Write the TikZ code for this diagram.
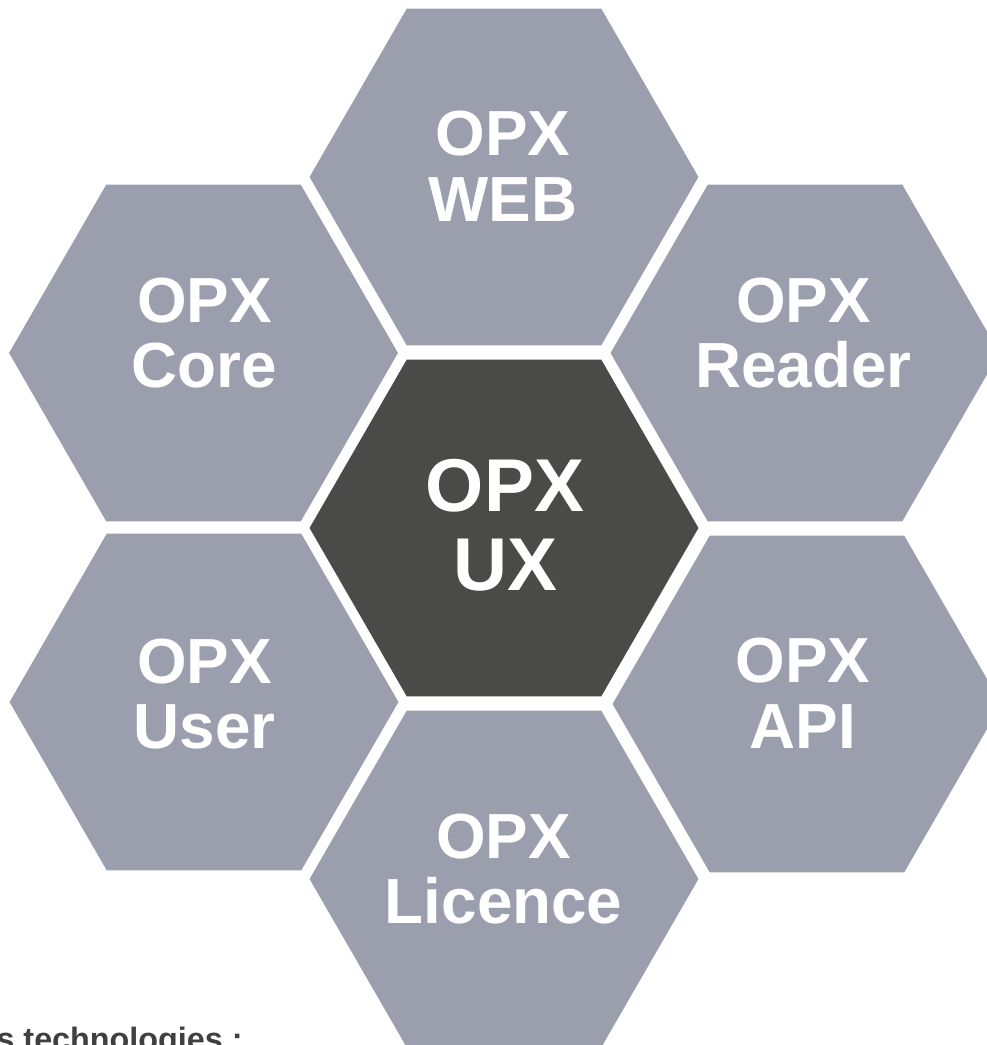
\documentclass[tikz,border=0pt]{standalone}
\usepackage{fontspec}
\setmainfont{Liberation Sans}
\usetikzlibrary{shapes.geometric}

\definecolor{opxgray}{HTML}{9B9EAD}
\definecolor{opxdark}{HTML}{4A4A48}
\definecolor{opxtext}{HTML}{404040}

\begin{document}
\begin{tikzpicture}[x=0.02cm, y=-0.02cm,
  hex cell/.style={regular polygon, regular polygon sides=6, minimum size=7.78cm,
    inner sep=0pt, outer sep=0pt, draw=none},
  hex text/.style={align=center, text=white, inner sep=0pt,
    font=\fontsize{36.3}{37.4}\selectfont\bfseries},
  ux text/.style={hex text, font=\fontsize{42.6}{45.1}\selectfont\bfseries}]

    \useasboundingbox (0, 0) rectangle (987, 1045);

    % ring of grey cells round the dark one
    \foreach \nm/\cx/\cy in {web/504/177, core/203.5/353, reader/805/353,
                             user/204/702, api/807/704, licence/504/879}
        \node[hex cell, fill=opxgray] (\nm) at (\cx, \cy) {};
    \node[hex cell, fill=opxdark] (ux) at (504, 528) {};

    \node[hex text] (webtxt) at (503, 166) {OPX\\WEB};
    \node[hex text] (coretxt) at (204.5, 333) {OPX\\Core};
    \node[hex text] (readertxt) at (803.5, 333) {OPX\\Reader};
    \node[ux text] (uxtxt) at (505, 525) {OPX\\UX};
    \node[hex text] (usertxt) at (204.5, 694) {OPX\\User};
    \node[hex text] (apitxt) at (803, 693) {OPX\\API};
    \node[hex text] (licencetxt) at (503.7, 869) {OPX\\Licence};

    \node[anchor=base east, inner sep=0pt, text=opxtext,
      font=\fontsize{18.4}{20}\selectfont\bfseries] (techno) at (243, 1050) {s technologies :};

\end{tikzpicture}
\end{document}
